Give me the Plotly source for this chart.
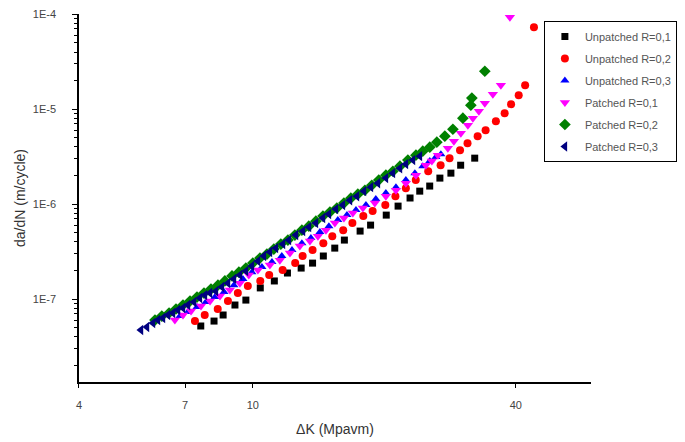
import plotly.graph_objects as go

# Unpatched R=0,1
dk_u1 = [7.60, 8.15, 8.55, 9.10, 9.64, 10.4, 11.2, 12.0, 12.9, 13.7, 14.5, 15.4, 16.2, 17.6,
         18.6, 20.2, 21.5, 22.9, 24.1, 25.4, 26.8, 28.4, 29.9, 32.2]
da_u1 = [5.20e-8, 5.86e-8, 6.79e-8, 8.65e-8, 9.75e-8, 1.31e-7, 1.55e-7, 1.88e-7, 2.12e-7, 2.39e-7,
         2.84e-7, 3.44e-7, 4.18e-7, 5.20e-7, 6.01e-7, 7.66e-7, 9.53e-7, 1.16e-6, 1.37e-6, 1.55e-6,
         1.88e-6, 2.12e-6, 2.57e-6, 3.05e-6]

# Unpatched R=0,2
dk_u2 = [7.37, 7.76, 8.31, 8.77, 9.24, 9.74, 10.4, 10.9, 11.7, 12.5, 13.0, 13.7, 14.5, 15.2, 16.1,
         16.9, 17.9, 18.8, 20.1, 21.2, 22.4, 23.6, 25.2, 26.9, 28.2, 29.8, 31.0, 32.7, 34.1, 36.0,
         37.7, 39.0, 40.6, 42.0, 44.0]
da_u2 = [5.86e-8, 6.79e-8, 7.85e-8, 9.53e-8, 1.16e-7, 1.37e-7, 1.55e-7, 1.79e-7, 2.02e-7, 2.39e-7,
         2.84e-7, 3.28e-7, 3.88e-7, 4.60e-7, 5.32e-7, 6.31e-7, 7.48e-7, 8.44e-7, 9.76e-7, 1.21e-6,
         1.47e-6, 1.79e-6, 2.22e-6, 2.57e-6, 3.05e-6, 3.70e-6, 4.38e-6, 5.20e-6, 6.01e-6, 7.48e-6,
         9.08e-6, 1.13e-5, 1.40e-5, 1.79e-5, 7.30e-5]

# Unpatched R=0,3
dk_u3 = [6.81, 7.10, 7.45, 7.81, 8.19, 8.59, 9.05, 9.49, 9.95, 10.49, 11.06, 11.65, 12.29, 12.95,
         13.58, 14.24, 14.93, 15.65, 16.42, 17.22, 18.15, 19.12, 20.16, 21.26, 22.40, 23.49, 24.49,
         25.41, 26.24, 26.94]
da_u3 = [6.62e-8, 7.30e-8, 8.24e-8, 9.29e-8, 1.05e-7, 1.185e-7, 1.40e-7, 1.63e-7, 1.92e-7, 2.17e-7,
         2.45e-7, 2.84e-7, 3.28e-7, 3.88e-7, 4.39e-7, 5.07e-7, 5.86e-7, 6.79e-7, 7.66e-7, 8.65e-7,
         9.76e-7, 1.13e-6, 1.31e-6, 1.51e-6, 1.79e-6, 2.12e-6, 2.51e-6, 2.84e-6, 3.13e-6, 3.36e-6]

# Patched R=0,1
dk_p1 = [6.63, 6.92, 7.22, 7.61, 7.98, 8.41, 8.86, 9.34, 9.79, 10.27, 10.94, 11.53, 12.16, 12.81,
         13.51, 14.09, 14.70, 15.41, 16.16, 16.94, 17.86, 19.02, 20.16, 21.26, 22.40, 23.62, 24.89,
         25.69, 26.52, 27.95, 28.85, 29.93, 31.06, 31.89, 32.91, 33.96, 35.43, 36.96, 38.76]
da_p1 = [6.01e-8, 6.79e-8, 7.48e-8, 8.44e-8, 9.53e-8, 1.076e-7, 1.245e-7, 1.47e-7, 1.79e-7, 2.02e-7,
         2.28e-7, 2.57e-7, 3.05e-7, 3.61e-7, 4.08e-7, 4.60e-7, 5.32e-7, 6.31e-7, 7.13e-7, 8.04e-7,
         9.08e-7, 1.025e-6, 1.21e-6, 1.40e-6, 1.66e-6, 2.02e-6, 2.57e-6, 2.84e-6, 3.28e-6, 3.88e-6,
         4.60e-6, 5.59e-6, 6.79e-6, 8.04e-6, 9.53e-6, 1.156e-5, 1.44e-5, 1.79e-5, 9.30e-5]

# Patched R=0,2
dk_p2 = [5.97, 6.19, 6.43, 6.67, 6.92, 7.18, 7.45, 7.73, 8.02, 8.32, 8.63, 8.96, 9.29, 9.64, 10.0,
         10.38, 10.77, 11.17, 11.59, 12.03, 12.48, 12.95, 13.43, 13.94, 14.47, 15.01, 15.57, 16.16,
         16.76, 17.39, 18.05, 18.72, 19.42, 20.16, 20.92, 21.71, 22.64, 23.62, 24.49, 25.41, 26.37,
         27.51, 28.70, 30.25, 31.55, 31.72, 33.96]
da_p2 = [6.01e-8, 6.62e-8, 7.13e-8, 7.85e-8, 8.65e-8, 9.53e-8, 1.05e-7, 1.156e-7, 1.274e-7, 1.40e-7,
         1.55e-7, 1.75e-7, 1.92e-7, 2.12e-7, 2.39e-7, 2.70e-7, 2.98e-7, 3.36e-7, 3.79e-7, 4.18e-7,
         4.72e-7, 5.32e-7, 5.86e-7, 6.62e-7, 7.48e-7, 8.24e-7, 9.08e-7, 1.025e-6, 1.156e-6, 1.274e-6,
         1.40e-6, 1.58e-6, 1.79e-6, 2.02e-6, 2.22e-6, 2.51e-6, 2.91e-6, 3.28e-6, 3.61e-6, 3.98e-6,
         4.49e-6, 5.20e-6, 6.15e-6, 8.04e-6, 1.10e-5, 1.31e-5, 2.51e-5]

# Patched R=0,3
dk_p3 = [5.545, 5.723, 5.906, 6.064, 6.226, 6.393, 6.563, 6.738, 6.918, 7.102, 7.330, 7.565, 7.767,
         7.975, 8.231, 8.495, 8.770, 9.051, 9.342, 9.643, 9.95, 10.27, 10.60, 10.94, 11.29, 11.72,
         12.09, 12.55, 13.02, 13.44, 13.94, 14.47, 14.93, 15.49, 16.07, 16.68, 17.31, 17.96, 18.63,
         19.33, 20.16, 20.92, 21.71, 22.40, 23.25, 24.12]
da_p3 = [4.72e-8, 5.07e-8, 5.58e-8, 6.01e-8, 6.31e-8, 6.79e-8, 7.13e-8, 7.66e-8, 8.04e-8, 8.65e-8,
         9.29e-8, 1.025e-7, 1.10e-7, 1.156e-7, 1.21e-7, 1.34e-7, 1.47e-7, 1.63e-7, 1.79e-7, 1.97e-7,
         2.23e-7, 2.51e-7, 2.84e-7, 3.13e-7, 3.44e-7, 3.79e-7, 4.18e-7, 4.72e-7, 5.20e-7, 5.73e-7,
         6.31e-7, 7.13e-7, 7.85e-7, 8.86e-7, 9.76e-7, 1.10e-6, 1.21e-6, 1.37e-6, 1.51e-6, 1.66e-6,
         1.88e-6, 2.12e-6, 2.39e-6, 2.64e-6, 2.91e-6, 3.20e-6]

x_ticks = [4, 7, 10, 40]
x_tick_text = ["4", "7", "10", "40"]
y_ticks = [1e-7, 1e-6, 1e-5, 1e-4]
y_tick_text = ["1E-7", "1E-6", "1E-5", "1E-4"]
y_minor = [m * 10.0 ** e for e in range(-8, -4) for m in range(2, 10)]

series = [
    ("Unpatched R=0,1", dk_u1, da_u1, "square", "#000000", 7),
    ("Unpatched R=0,2", dk_u2, da_u2, "circle", "#FF0000", 8),
    ("Unpatched R=0,3", dk_u3, da_u3, "triangle-up", "#0000FF", 8),
    ("Patched R=0,1", dk_p1, da_p1, "triangle-down", "#FF00FF", 9),
    ("Patched R=0,2", dk_p2, da_p2, "diamond", "#008000", 9),
    ("Patched R=0,3", dk_p3, da_p3, "triangle-left", "#000080", 9),
]

fig = go.Figure()
for name, xs, ys, sym, col, sz in series:
    fig.add_trace(go.Scatter(x=xs, y=ys, mode="markers", name=name, legendgroup=name,
                             cliponaxis=False,
                             marker=dict(symbol=sym, color=col, size=sz, line=dict(width=0))))

fig.update_layout(
    width=685, height=442,
    margin=dict(l=71, r=102, t=6, b=68, autoexpand=False),
    paper_bgcolor="white", plot_bgcolor="white",
    font=dict(family="Liberation Sans, Arial", color="#444444"),
    showlegend=True,
    legend=dict(x=0.908, y=0.981, xanchor="left", yanchor="top",
                bordercolor="black", borderwidth=1, bgcolor="white",
                font=dict(size=11, color="#555555"), tracegroupgap=3),
)
fig.update_xaxes(type="log", range=[0.6021, 1.774], showgrid=False, zeroline=False,
                 automargin=False,
                 showline=True, linecolor="black", linewidth=1.5, mirror=False,
                 tickmode="array", tickvals=x_ticks, ticktext=x_tick_text,
                 ticks="outside", ticklen=4, tickcolor="black", ticklabelstandoff=8,
                 tickfont=dict(size=11, color="#444444"),
                 title=dict(text="ΔK (Mpavm)", font=dict(size=14, color="#333333"), standoff=14))
fig.update_yaxes(type="log", range=[-7.874, -3.997], showgrid=False, zeroline=False,
                 automargin=False,
                 showline=True, linecolor="black", linewidth=1.5, mirror=False,
                 tickmode="array", tickvals=y_ticks, ticktext=y_tick_text,
                 ticks="outside", ticklen=5, tickcolor="black", ticklabelstandoff=14,
                 tickfont=dict(size=11, color="#444444"),
                 minor=dict(tickmode="array", tickvals=y_minor, ticks="outside", ticklen=3,
                            tickcolor="black", showgrid=False),
                 title=dict(text="da/dN (m/cycle)", font=dict(size=14, color="#333333"), standoff=4))

fig.write_html("out.html")
